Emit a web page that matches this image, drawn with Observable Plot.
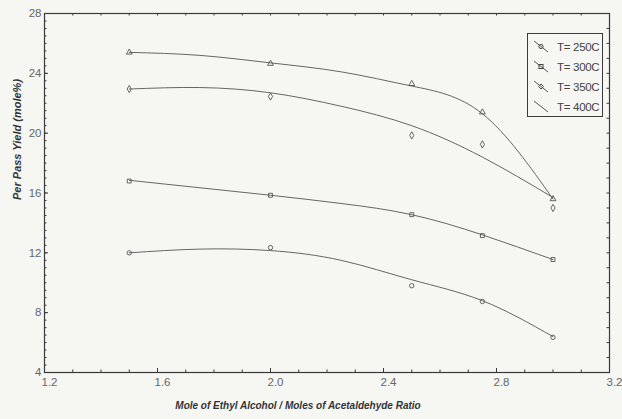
<!DOCTYPE html>
<html>
<head>
<meta charset="utf-8">
<script src="https://cdn.jsdelivr.net/npm/d3@7"></script>
<script src="https://cdn.jsdelivr.net/npm/@observablehq/plot@0.6"></script>
<style>
  html, body { margin: 0; padding: 0; background: #efefec; }
  #wrap { position: relative; width: 622px; height: 419px; font-family: "Liberation Sans", Arial, sans-serif; }
  #legend {
    position: absolute; left: 527px; top: 33px; width: 76px; height: 84px;
    border: 1px solid #3a3a3a; background: #f6f6f3; box-sizing: border-box;
  }
  .row { position: absolute; left: 4px; height: 16px; display: flex; align-items: center; }
  .row span { font-size: 11.5px; color: #444; margin-left: 7px; letter-spacing: -0.3px; }
</style>
</head>
<body>
<div id="wrap">
  <div id="chart"></div>
  <div id="legend"></div>
</div>
<script>
// Molar feed ratio (ethyl alcohol : acetaldehyde) at which runs were made
const ratio = [1.5, 2.0, 2.5, 2.75, 3.0];

// Measured per-pass yield (mole %) at each temperature
const yield250 = [12.0, 12.35, 9.8, 8.75, 6.35];
const yield300 = [16.8, 15.85, 14.55, 13.15, 11.55];
const yield350 = [22.95, 22.45, 19.85, 19.25, 15.0];
const yield400 = [25.4, 24.65, 23.3, 21.4, 15.6];

// Smoothed trend lines through the measurements
const fitRatio = [1.5, 1.75, 2.0, 2.25, 2.5, 2.75, 3.0];
const fit250 = [12.0, 12.25, 12.15, 11.5, 10.2, 8.8, 6.4];
const fit300 = [16.85, 16.35, 15.85, 15.3, 14.55, 13.2, 11.55];
const fit350 = [22.95, 23.05, 22.7, 21.8, 20.5, 18.4, 15.7];
const fit400 = [25.4, 25.2, 24.7, 24.1, 23.15, 21.3, 15.6];

const series = ["T= 250C", "T= 300C", "T= 350C", "T= 400C"];
const symbols = ["circle", "square", "diamond", "triangle"];

// Axis ticks
const xMajor = [1.2, 1.6, 2.0, 2.4, 2.8, 3.2];
const yMajor = [4, 8, 12, 16, 20, 24, 28];

const measured = [yield250, yield300, yield350, yield400];
const fits = [fit250, fit300, fit350, fit400];

const points = series.flatMap((s, i) => ratio.map((r, j) => ({series: s, sym: symbols[i], x: r, y: measured[i][j]})));
const curves = series.flatMap((s, i) => fitRatio.map((r, j) => ({series: s, x: r, y: fits[i][j]})));

const width = 622, height = 419;
const margin = {top: 13, right: 13, bottom: 47, left: 44};
const innerW = width - margin.left - margin.right;
const innerH = height - margin.top - margin.bottom;

const xMinor = d3.range(12, 33).map(d => d / 10);
const yMinor = d3.range(8, 57).map(d => d / 2);
const yRightMinor = d3.range(4, 29);

const ink = "#3a3a3a";
const lineInk = "#666";

const chart = Plot.plot({
  width, height,
  marginTop: margin.top, marginRight: margin.right, marginBottom: margin.bottom, marginLeft: margin.left,
  style: {background: "#f6f6f3", fontFamily: "'Liberation Sans', Arial, sans-serif"},
  x: {domain: [1.2, 3.2]},
  y: {domain: [4, 28]},
  symbol: {domain: symbols, range: symbols},
  marks: [
    // inward tick marks on all four sides
    Plot.tickX(xMinor, {x: d => d, insetTop: innerH - 2.5, stroke: ink}),
    Plot.tickX(xMinor, {x: d => d, insetBottom: innerH - 2.5, stroke: ink}),
    Plot.tickX(xMajor, {x: d => d, insetTop: innerH - 4, stroke: ink}),
    Plot.tickY(yMinor, {y: d => d, insetRight: innerW - 2.5, stroke: ink}),
    Plot.tickY(yMajor, {y: d => d, insetRight: innerW - 4, stroke: ink}),
    Plot.tickY(yRightMinor, {y: d => d, insetLeft: innerW - 2.5, stroke: ink}),
    Plot.axisX(xMajor, {tickSize: 0, tickPadding: 5, dx: 5, tickFormat: d3.format(".1f"), fontSize: 11.5, fill: "#666", label: null}),
    Plot.axisY(yMajor, {tickSize: 0, tickPadding: 3, fontSize: 11.5, fill: "#666", label: null}),
    Plot.line(curves, {x: "x", y: "y", z: "series", curve: "natural", stroke: lineInk, strokeWidth: 1}),
    Plot.dot(points, {x: "x", y: "y", symbol: "sym", r: 2.2, stroke: "#555", strokeWidth: 0.9, fill: "none"}),
    Plot.frame({stroke: ink, strokeWidth: 1.2}),
    Plot.text(["Mole of Ethyl Alcohol / Moles of Acetaldehyde Ratio"], {
      frameAnchor: "bottom", dy: 36, dx: -29, fontSize: 10, fontStyle: "italic", fontWeight: "bold", fill: "#333"
    }),
    Plot.text(["Per Pass Yield (mole%)"], {
      frameAnchor: "left", dx: -27, dy: 7, rotate: -90, fontSize: 11, fontStyle: "italic", fontWeight: "bold", fill: "#333"
    })
  ]
});
document.getElementById("chart").appendChild(chart);

// Legend: a short slanted stroke with the series marker, then its label
const legend = document.getElementById("legend");
const glyph = {
  circle: '<circle cx="9" cy="6.5" r="2.1" fill="none" stroke="#444"/>',
  square: '<rect x="7" y="4.5" width="4" height="4" fill="none" stroke="#444"/>',
  diamond: '<path d="M9,4L11.5,6.5L9,9L6.5,6.5Z" fill="none" stroke="#444"/>',
  triangle: ''
};
series.forEach((s, i) => {
  const row = document.createElement("div");
  row.className = "row";
  row.style.top = (5 + i * 20) + "px";
  row.innerHTML = `<svg width="18" height="14"><line x1="2" y1="1" x2="16" y2="12" stroke="#555" stroke-width="1"/>${glyph[symbols[i]]}</svg><span>${s}</span>`;
  legend.appendChild(row);
});
</script>
</body>
</html>
